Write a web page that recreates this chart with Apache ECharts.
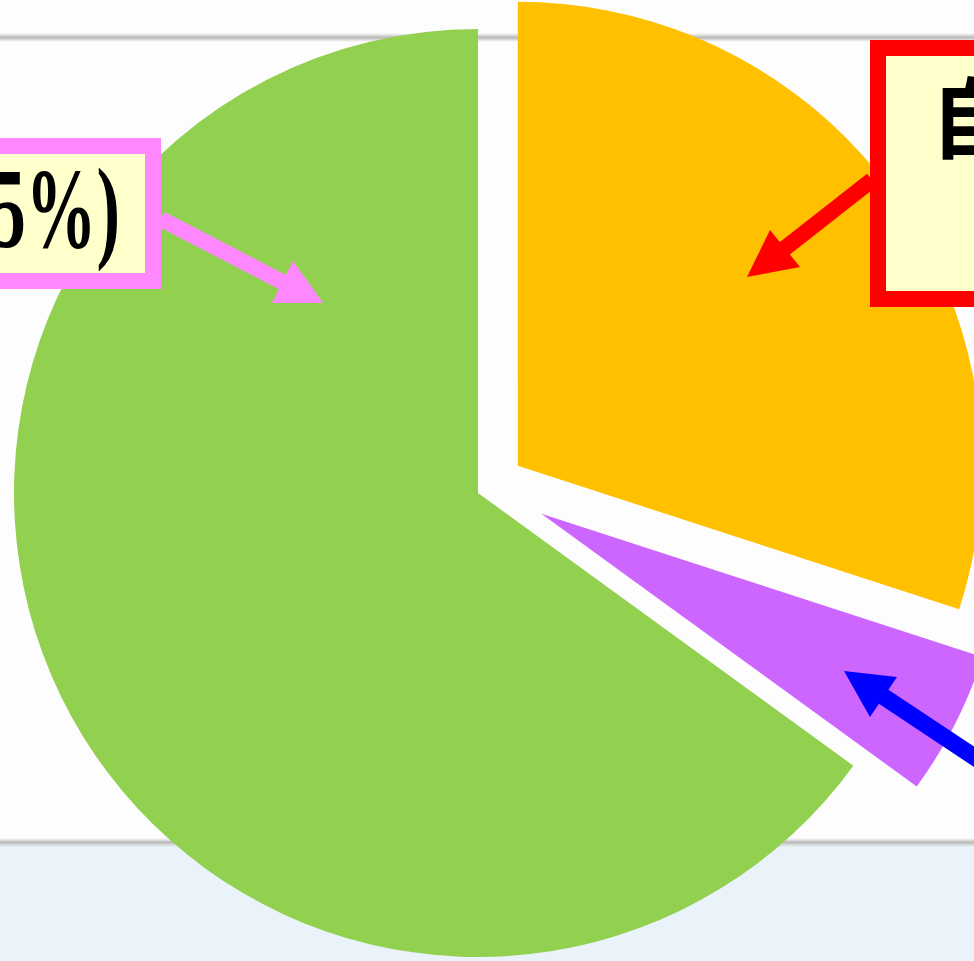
<!DOCTYPE html>
<html>
<head>
<meta charset="utf-8">
<script src="https://cdn.jsdelivr.net/npm/echarts@6/dist/echarts.min.js"></script>
<style>
  html, body { margin: 0; padding: 0; background: #fdfdfd; }
  #main { width: 974px; height: 961px; }
</style>
</head>
<body>
<div id="main"></div>
<script>
// 饼图数据（顺时针，从12点方向开始）
var sliceNames = ["A", "B", "C"];
var sliceValues = [30, 5, 65];
var sliceColors = ["#FFC000", "#CC66FF", "#92D050"];

// 每个扇区分离的距离（像素）
var sliceOffsets = [48, 70, 0];
// 各系列的圆心（紫色那块原图略偏上）
var centers = [[479, 494], [479, 482], [478, 493]];

var hidden = "rgba(0,0,0,0)";

// 为每个偏移量做一个系列，其他扇区透明
function makeSeries(idx) {
    return {
        type: "pie",
        silent: true,
        center: centers[idx],
        radius: [0, 464],
        startAngle: 90,
        clockwise: true,
        selectedMode: "multiple",
        selectedOffset: sliceOffsets[idx],
        label: { show: false },
        labelLine: { show: false },
        emphasis: { disabled: true },
        itemStyle: { borderWidth: 0 },
        data: sliceNames.map(function (n, i) {
            var show = (idx === 2) ? (sliceOffsets[i] === 0) : (i === idx);
            return {
                name: n,
                value: sliceValues[i],
                selected: sliceOffsets[i] > 0,
                itemStyle: { color: show ? sliceColors[i] : hidden }
            };
        })
    };
}

function arrow(x1, y1, x2, y2, tip, c1, c2, color, w) {
    return [{
        type: "line", z: 50,
        shape: { x1: x1, y1: y1, x2: x2, y2: y2 },
        style: { stroke: color, lineWidth: w }
    }, {
        type: "polygon", z: 51,
        shape: { points: [tip, c1, c2] },
        style: { fill: color }
    }];
}

var grayBand = {
    type: "linear", x: 0, y: 0, x2: 0, y2: 1,
    colorStops: [
        { offset: 0, color: "rgba(190,190,190,0)" },
        { offset: 0.5, color: "rgba(185,185,185,1)" },
        { offset: 1, color: "rgba(190,190,190,0)" }
    ]
};

var elements = [
    // 背景
    { type: "rect", z: -10, shape: { x: 0, y: 845, width: 974, height: 116 }, style: { fill: "#EAF2FA" } },
    { type: "rect", z: -9, shape: { x: 0, y: 33, width: 974, height: 9 }, style: { fill: grayBand } },
    { type: "rect", z: -9, shape: { x: 0, y: 838, width: 974, height: 9 }, style: { fill: grayBand } },
    // 粉色标注框
    { type: "rect", z: 60, shape: { x: -30, y: 146, width: 183, height: 135 },
      style: { fill: "#FFFFCC", stroke: "#FF87FF", lineWidth: 16 } },
    { type: "text", z: 61, x: 120, y: 218, scaleX: 0.62,
      style: { text: "(65%)", font: "bold 114px 'Liberation Serif'", fill: "#000", align: "right", verticalAlign: "middle" } },
    // 红色标注框
    { type: "rect", z: 60, shape: { x: 878, y: 48, width: 200, height: 251 },
      style: { fill: "#FFFFCC", stroke: "#FF0000", lineWidth: 16 } },
    { type: "text", z: 61, x: 930, y: 74,
      style: { text: "自", font: "bold 88px 'Noto Sans CJK SC'", fill: "#000", align: "left", verticalAlign: "top" } }
];

elements = elements
    .concat(arrow(161, 219, 292, 287, [323, 303], [293, 261], [272, 303], "#FF87FF", 16))
    .concat(arrow(872, 180, 775, 256, [747, 277], [770, 230], [800, 267], "#FF0000", 16))
    .concat(arrow(1000, 774, 875, 691, [844, 671], [897, 677], [870, 717], "#0000FF", 17));

var option = {
    backgroundColor: "#FDFDFD",
    animation: false,
    graphic: { elements: elements },
    series: [makeSeries(0), makeSeries(1), makeSeries(2)]
};

var chart = echarts.init(document.getElementById("main"));
chart.setOption(option);
</script>
</body>
</html>
